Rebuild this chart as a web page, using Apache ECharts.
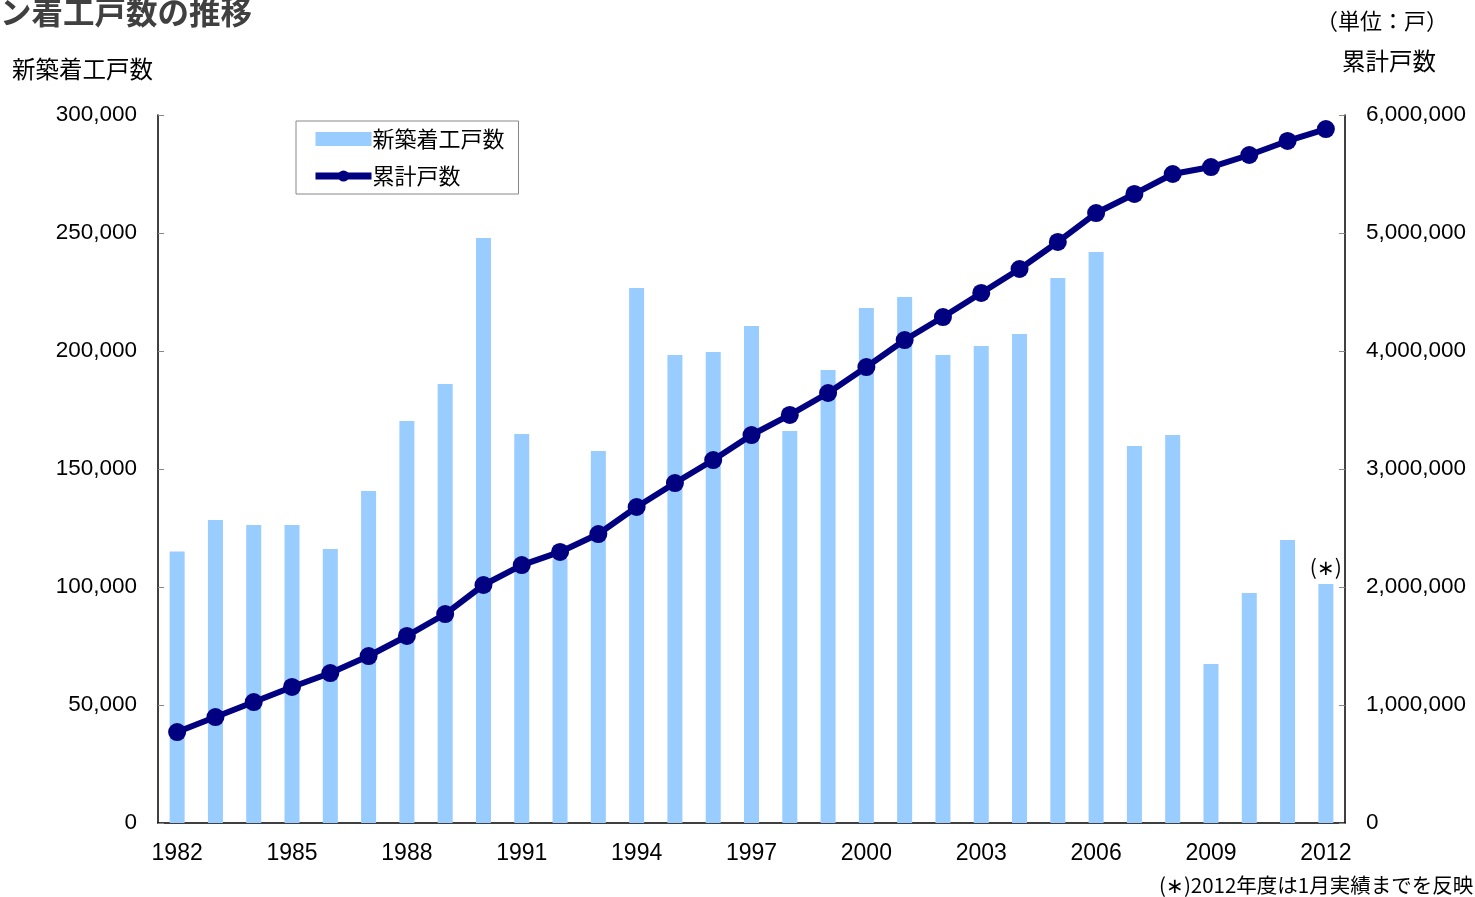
<!DOCTYPE html>
<html>
<head>
<meta charset="utf-8">
<script src="https://cdn.jsdelivr.net/npm/echarts@6/dist/echarts.min.js"></script>
<style>
  html, body { margin: 0; padding: 0; background: #fff; }
  #chart { width: 1475px; height: 897px; }
</style>
</head>
<body>
<div id="chart"></div>
<script>
  // 年度
  const years = [];
  for (let y = 1982; y <= 2012; y++) years.push(String(y));

  // 新築着工戸数（棒）
  const newStarts = [
    115000, 128400, 126300, 126300, 116100, 140700, 170300, 186000, 247900, 164800,
    112000, 157600, 226700, 198300, 199600, 210600, 166100, 192000, 218200, 222900,
    198300, 202100, 207200, 230900, 241900, 159700, 164400, 67400, 97500, 119900,
    101300
  ];

  // 累計戸数（折れ線）
  const cumulative = [
    771000, 898000, 1025000, 1153000, 1271000, 1415000, 1585000, 1771000, 2017000, 2186000,
    2297000, 2449000, 2678000, 2881000, 3076000, 3288000, 3458000, 3644000, 3864000, 4093000,
    4288000, 4492000, 4695000, 4924000, 5169000, 5331000, 5500000, 5559000, 5661000, 5780000,
    5881000
  ];

  const jp = '"Noto Sans CJK JP", "Noto Sans", sans-serif';
  const num = '"Liberation Sans", Arial, sans-serif';

  const chart = echarts.init(document.getElementById('chart'));

  const option = {
    animation: false,
    backgroundColor: '#fff',
    grid: { left: 158, right: 130, top: 115, bottom: 74 },
    legend: {
      left: 296, top: 121,
      orient: 'vertical',
      padding: [7, 14, 7, 16],
      itemGap: 15,
      itemWidth: 56,
      itemHeight: 14,
      borderColor: '#888',
      borderWidth: 1,
      textStyle: { fontFamily: jp, fontSize: 22, color: '#000', padding: [0, 0, 0, -4] },
      data: [
        { name: '新築着工戸数', icon: 'rect', itemStyle: { color: '#99CCFF' } },
        { name: '累計戸数', lineStyle: { width: 7, color: '#000080' } }
      ]
    },
    xAxis: {
      type: 'category',
      data: years,
      boundaryGap: true,
      axisLine: { lineStyle: { color: '#000', width: 1.5 } },
      axisTick: { inside: true, interval: 2, length: 6, lineStyle: { color: '#888' } },
      axisLabel: { interval: 2, fontFamily: num, fontSize: 23, color: '#000', margin: 19 }
    },
    yAxis: [
      {
        type: 'value', min: 0, max: 300000, interval: 50000,
        splitLine: { show: false },
        axisLine: { show: true, lineStyle: { color: '#000', width: 1.5 } },
        axisTick: { show: true, inside: true, length: 6, lineStyle: { color: '#888' } },
        axisLabel: {
          fontFamily: num, fontSize: 22.5, color: '#000', margin: 21,
          formatter: v => v.toLocaleString('en-US')
        }
      },
      {
        type: 'value', min: 0, max: 6000000, interval: 1000000,
        splitLine: { show: false },
        axisLine: { show: true, lineStyle: { color: '#000', width: 1.5 } },
        axisTick: { show: true, inside: true, length: 6, lineStyle: { color: '#888' } },
        axisLabel: {
          fontFamily: num, fontSize: 22.5, color: '#000', margin: 21,
          formatter: v => v.toLocaleString('en-US')
        }
      }
    ],
    series: [
      {
        name: '新築着工戸数',
        type: 'bar',
        data: newStarts.map((v, i) => i === newStarts.length - 1 ? {
          value: v,
          label: {
            show: true, position: 'top', distance: 6, formatter: '(∗)',
            fontFamily: jp, fontSize: 21, color: '#000'
          }
        } : v),
        barWidth: 15,
        itemStyle: { color: '#99CCFF' }
      },
      {
        name: '累計戸数',
        type: 'line',
        yAxisIndex: 1,
        data: cumulative,
        symbol: 'circle',
        symbolSize: 18,
        lineStyle: { color: '#000080', width: 6 },
        itemStyle: { color: '#000080' }
      }
    ],
    graphic: [
      {
        type: 'text', left: 0, top: -4,
        style: { text: 'ン着工戸数の推移', font: 'bold 31.5px ' + jp, fill: '#404040' }
      },
      {
        type: 'text', left: 12, top: 57,
        style: { text: '新築着工戸数', font: '23.5px ' + jp, fill: '#000' }
      },
      {
        type: 'text', left: 1316, top: 10,
        style: { text: '（単位：戸）', font: '22px ' + jp, fill: '#000' }
      },
      {
        type: 'text', left: 1342, top: 49,
        style: { text: '累計戸数', font: '23.5px ' + jp, fill: '#000' }
      },
      {
        type: 'text', left: 1159, top: 875,
        style: { text: '(∗)2012年度は1月実績までを反映', font: '20.5px ' + jp, fill: '#000' }
      }
    ]
  };

  chart.setOption(option);
</script>
</body>
</html>
